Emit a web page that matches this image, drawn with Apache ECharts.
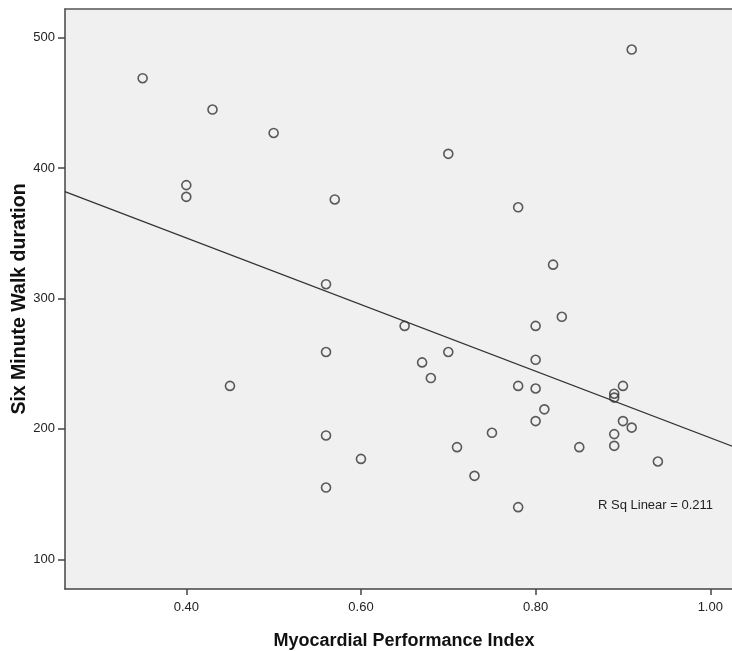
<!DOCTYPE html>
<html>
<head>
<meta charset="utf-8">
<script src="https://cdn.jsdelivr.net/npm/echarts@6/dist/echarts.min.js"></script>
<style>
  html, body { margin: 0; padding: 0; background: #fff; }
  #chart { width: 732px; height: 651px; }
</style>
</head>
<body>
<div id="chart"></div>
<script>
// Myocardial Performance Index (x) vs Six Minute Walk duration (y)
const mpi = [
  0.35, 0.43, 0.50, 0.40, 0.40, 0.45, 0.56, 0.56, 0.56, 0.56,
  0.57, 0.60, 0.65, 0.67, 0.68, 0.70, 0.70, 0.71, 0.73, 0.75,
  0.78, 0.78, 0.78, 0.80, 0.80, 0.80, 0.80, 0.81, 0.82, 0.83,
  0.85, 0.89, 0.89, 0.89, 0.89, 0.90, 0.90, 0.91, 0.91, 0.94,
]
const walk = [
  469, 445, 427, 387, 378, 233, 311, 259, 195, 155,
  376, 177, 279, 251, 239, 411, 259, 186, 164, 197,
  370, 233, 140, 279, 253, 231, 206, 215, 326, 286,
  186, 227, 224, 196, 187, 233, 206, 201, 491, 175,
]

// fit line, read at the two edges of the plot
const fitX = [0.261, 1.028]
const fitY = [382, 186]

const xTicks = [0.4, 0.6, 0.8, 1.0]
const yTicks = [100, 200, 300, 400, 500]

const points = mpi.map((v, i) => [v, walk[i]])
const fitLine = fitX.map((v, i) => [v, fitY[i]])

const myChart = echarts.init(document.getElementById('chart'))

const labelFont = {
  color: '#222',
  fontFamily: 'Liberation Sans, Arial, sans-serif',
  fontSize: 13,
}
const nameFont = {
  color: '#111',
  fontFamily: 'Liberation Sans, Arial, sans-serif',
  fontSize: 18,
  fontWeight: 'bold',
}

const option = {
  animation: false,
  backgroundColor: '#fff',
  grid: {
    left: 65,
    top: 9,
    right: -3,
    bottom: 62,
    outerBoundsMode: 'none',
    containLabel: false,
    show: true,
    backgroundColor: '#f0f0f0',
    borderWidth: 0,
  },
  xAxis: [
    {
      type: 'value',
      min: 0.2611,
      max: 1.0283,
      name: 'Myocardial Performance Index',
      nameLocation: 'middle',
      nameGap: 43,
      nameMoveOverlap: false,
      nameTextStyle: { ...nameFont, padding: [0, 0, 0, 8] },
      splitLine: { show: false },
      axisLine: { onZero: false, lineStyle: { color: '#444', width: 1.5 } },
      axisTick: { customValues: xTicks, length: 6, lineStyle: { color: '#444', width: 1.5 } },
      axisLabel: {
        customValues: xTicks,
        formatter: (v) => v.toFixed(2),
        margin: 12,
        ...labelFont,
      },
    },
    {
      // top border of the frame
      type: 'value',
      position: 'top',
      min: 0.2611,
      max: 1.0283,
      splitLine: { show: false },
      axisLine: { show: true, lineStyle: { color: '#555', width: 1.5 } },
      axisTick: { show: false },
      axisLabel: { show: false },
    },
  ],
  yAxis: {
    type: 'value',
    min: 77.2,
    max: 522.1,
    name: 'Six Minute Walk duration',
    nameLocation: 'middle',
    nameGap: 35,
    nameMoveOverlap: false,
    nameTextStyle: { ...nameFont, fontSize: 19.5 },
    splitLine: { show: false },
    axisLine: { show: true, onZero: false, lineStyle: { color: '#444', width: 1.5 } },
    axisTick: { customValues: yTicks, length: 7, lineStyle: { color: '#444', width: 1.5 } },
    axisLabel: { customValues: yTicks, margin: 10, ...labelFont },
  },
  series: [
    {
      type: 'line',
      data: fitLine,
      symbol: 'none',
      lineStyle: { color: '#333', width: 1.2 },
      z: 1,
    },
    {
      type: 'scatter',
      data: points,
      symbol: 'circle',
      symbolSize: 9,
      itemStyle: {
        color: 'rgba(0,0,0,0)',
        borderColor: '#333',
        borderWidth: 1.6,
      },
      z: 2,
    },
  ],
  graphic: [
    {
      type: 'text',
      left: 598,
      top: 499,
      style: {
        text: 'R Sq Linear = 0.211',
        fill: '#222',
        font: '13px Liberation Sans, Arial, sans-serif',
      },
    },
  ],
}

myChart.setOption(option)
</script>
</body>
</html>
